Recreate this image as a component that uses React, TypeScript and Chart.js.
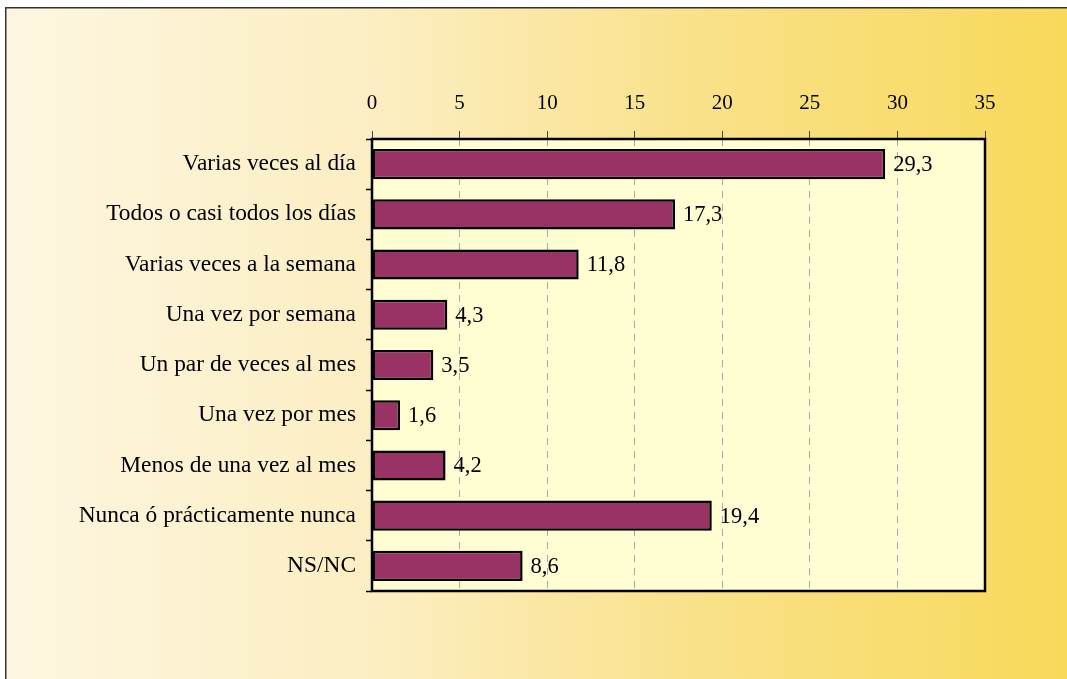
import React, { useEffect, useRef } from 'react';
import { Chart, registerables } from 'chart.js';

Chart.register(...registerables);

const categories = [
  'Varias veces al día',
  'Todos o casi todos los días',
  'Varias veces a la semana',
  'Una vez por semana',
  'Un par de veces al mes',
  'Una vez por mes',
  'Menos de una vez al mes',
  'Nunca ó prácticamente nunca',
  'NS/NC',
];
const values = [29.3, 17.3, 11.8, 4.3, 3.5, 1.6, 4.2, 19.4, 8.6];
const xMin = 0;
const xMax = 35;
const xStep = 5;

const W = 1067;
const H = 679;
const FONT = '"Liberation Serif", "Times New Roman", serif';

export default function App() {
  const ref = useRef<HTMLCanvasElement>(null);

  useEffect(() => {
    if (!ref.current) return;

    const decor = {
      id: 'decor',
      beforeDraw(chart: any) {
        const { ctx, chartArea } = chart;
        ctx.save();
        ctx.fillStyle = '#ffffff';
        ctx.fillRect(0, 0, W, H);
        const g = ctx.createLinearGradient(5, 0, W, 0);
        g.addColorStop(0, '#FDF6E0');
        g.addColorStop(0.35, '#FCEEC2');
        g.addColorStop(0.65, '#F9E18A');
        g.addColorStop(1, '#F8D95A');
        ctx.fillStyle = g;
        ctx.fillRect(5, 7, W - 5, H - 7);
        ctx.strokeStyle = '#333333';
        ctx.lineWidth = 1.5;
        ctx.beginPath();
        ctx.moveTo(5.75, H);
        ctx.lineTo(5.75, 7.75);
        ctx.lineTo(W, 7.75);
        ctx.stroke();
        ctx.fillStyle = '#FFFDD2';
        ctx.fillRect(chartArea.left, chartArea.top, chartArea.right - chartArea.left, chartArea.bottom - chartArea.top);
        ctx.restore();
      },
      afterDatasetsDraw(chart: any) {
        const { ctx } = chart;
        const meta = chart.getDatasetMeta(0);
        ctx.save();
        ctx.font = `22.5px ${FONT}`;
        ctx.fillStyle = '#000000';
        ctx.textAlign = 'left';
        ctx.textBaseline = 'middle';
        meta.data.forEach((bar: any, i: number) => {
          const txt = values[i].toFixed(1).replace('.', ',');
          ctx.fillText(txt, bar.x + 8, bar.y + 1);
        });
        ctx.restore();
      },
      afterDraw(chart: any) {
        const { ctx, chartArea } = chart;
        ctx.save();
        ctx.strokeStyle = '#000000';
        ctx.lineWidth = 2.5;
        ctx.strokeRect(chartArea.left, chartArea.top, chartArea.right - chartArea.left, chartArea.bottom - chartArea.top);
        ctx.restore();
      },
    };

    const chart = new Chart(ref.current, {
      type: 'bar',
      data: {
        labels: categories,
        datasets: [
          {
            data: values,
            backgroundColor: '#993366',
            borderColor: '#000000',
            borderWidth: 2.5,
            borderSkipped: false,
            barPercentage: 0.6,
            categoryPercentage: 1,
          },
        ],
      },
      options: {
        indexAxis: 'y',
        animation: false,
        responsive: false,
        devicePixelRatio: 1,
        layout: { padding: { left: 0, top: 0, right: 82, bottom: 88 } },
        plugins: {
          legend: { display: false },
          tooltip: { enabled: false },
          title: { display: false },
        },
        scales: {
          x: {
            position: 'top',
            min: xMin,
            max: xMax,
            afterFit(scale: any) {
              scale.height = 139;
            },
            ticks: {
              stepSize: xStep,
              color: '#000000',
              font: { family: FONT, size: 21 },
              padding: 15,
            },
            grid: {
              color: '#A8A8A8',
              lineWidth: 1,
              tickColor: '#444444',
              tickLength: 8,
              tickWidth: 1,
            },
            border: { display: false, dash: [7, 6] },
          },
          y: {
            afterFit(scale: any) {
              scale.width = 372;
            },
            ticks: {
              color: '#000000',
              font: { family: FONT, size: 23.4 },
              padding: 10,
            },
            grid: {
              offset: true,
              drawOnChartArea: false,
              drawTicks: true,
              tickLength: 6,
              tickColor: '#000000',
              tickWidth: 1.5,
            },
            border: { display: false },
          },
        },
      },
      plugins: [decor],
    });

    return () => chart.destroy();
  }, []);

  return (
    <div style={{ position: 'absolute', left: 0, top: 0, width: W, height: H }}>
      <canvas ref={ref} width={W} height={H} style={{ width: W, height: H, display: 'block' }} />
    </div>
  );
}
